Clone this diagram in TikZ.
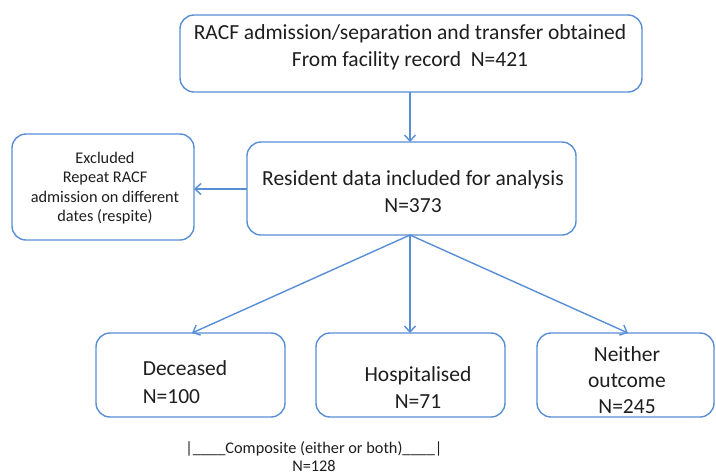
\documentclass[tikz,border=0pt]{standalone}
\usepackage{fontspec}
\setmainfont{Carlito}
\usetikzlibrary{arrows.meta}
\definecolor{boxblue}{RGB}{88,142,214}
\definecolor{txt}{RGB}{30,30,30}
\tikzset{
  box/.style={draw=boxblue, line width=1.4pt, rounded corners=14pt, text=txt},
  conn/.style={draw=boxblue, line width=1.4pt, -{Straight Barb[length=6pt,width=11pt,line width=1.4pt]}},
  lbl/.style={text=txt, inner sep=0pt, align=center},
  bigfont/.style={font=\fontsize{21.5}{27}\selectfont},
  smallfont/.style={font=\fontsize{16.3}{19.5}\selectfont}
}
\begin{document}
\begin{tikzpicture}[x=1pt,y=-1pt]
\useasboundingbox (0,0) rectangle (716,475);
% boxes
\draw[box] (180,15) rectangle (642,92);
\node[lbl, bigfont] (toptxt) at (410,47) {RACF admission/separation and transfer obtained\\From facility record\ \ N=421};
\coordinate (topS) at (410,92);

\draw[box] (247,142) rectangle (576,235);
\node[lbl, bigfont] (midtxt) at (413,192) {Resident data included for analysis\\N=373};
\coordinate (midN) at (410,142);
\coordinate (midS) at (410,235);
\coordinate (midW) at (247,189);

\draw[box] (12,134) rectangle (194,240);
\node[lbl, smallfont] (exctxt) at (105,188) {Excluded\\Repeat RACF\\admission on different\\dates (respite)};
\coordinate (excE) at (194,189);

\draw[box] (96,333) rectangle (285,417);
\node[lbl, align=left, font=\fontsize{21.5}{28}\selectfont] (dectxt) at (185,382) {Deceased\\N=100};
\coordinate (decN) at (192,333);

\draw[box] (316,333) rectangle (505,417);
\node[lbl, bigfont] (hostxt) at (418,388) {Hospitalised\\N=71};
\coordinate (hosN) at (410,333);

\draw[box] (537,333) rectangle (714,417);
\node[lbl, font=\fontsize{21.5}{26}\selectfont] (neitxt) at (627,380) {Neither\\outcome\\N=245};
\coordinate (neiN) at (628,333);

% connectors
\draw[conn] (topS) -- (midN);
\draw[conn] (midW) -- (excE);
\draw[conn] (midS) -- (decN);
\draw[conn] (midS) -- (hosN);
\draw[conn] (midS) -- (neiN);

% composite
\node[lbl, font=\fontsize{16.3}{18}\selectfont] (comp) at (314,457) {|\_\_\_\_Composite (either or both)\_\_\_\_|\\N=128};
\end{tikzpicture}
\end{document}
